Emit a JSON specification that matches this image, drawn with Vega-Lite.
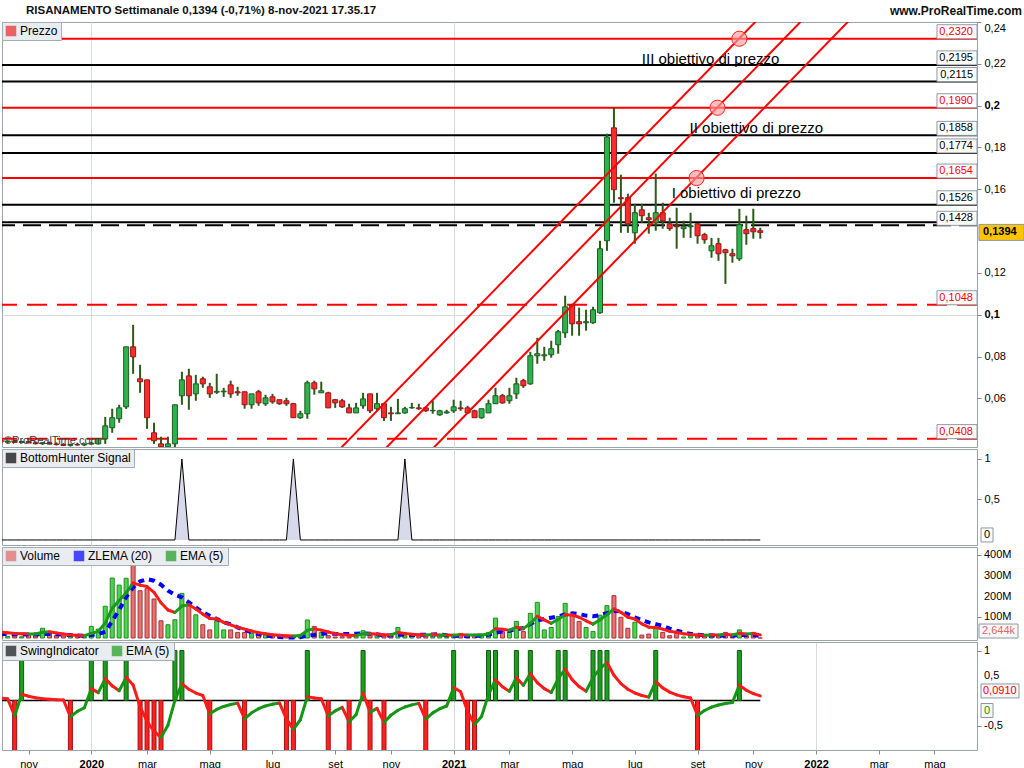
{
"$schema":"https://vega.github.io/schema/vega-lite/v6.json",
"padding":{"top":4,"left":0,"right":0,"bottom":0},
"background":"#ffffff",
"spacing":0,
"config":{
 "locale":{"number":{"decimal":",","thousands":".","grouping":[3],"currency":["","\u00a0€"],"minus":"-"}},
 "view":{"stroke":"#9aa4ae","strokeWidth":1},
 "font":"Liberation Sans",
 "scale":{"continuousPadding":0},
 "axis":{"labelFont":"Liberation Sans","labelFontSize":11,"labelColor":"#000000","tickColor":"#7d8790","domainColor":"#9aa4ae","gridColor":"#d5dae0","tickSize":4,"labelPadding":3,"labelOverlap":false},
 "legend":{"orient":"top-left","offset":0,"direction":"horizontal","fillColor":"#e9edf1","strokeColor":"#a3adb7","padding":3,"symbolType":"square","symbolSize":110,"symbolStrokeWidth":0,"labelFont":"Liberation Sans","labelFontSize":12,"labelColor":"#000000","columnPadding":12,"labelOffset":3}
},
"datasets":{
"w":[
{"d":"2019-10-07","o":0.0400,"h":0.0405,"l":0.0388,"c":0.0392,"v":12e6,"ev":29e6,"zl":20e6,"bh":0,"sw":0,"es":0.05},
{"d":"2019-10-14","o":0.0392,"h":0.0400,"l":0.0385,"c":0.0396,"v":8e6,"ev":25e6,"zl":19e6,"bh":0,"sw":0,"es":0.033},
{"d":"2019-10-21","o":0.0396,"h":0.0402,"l":0.0388,"c":0.0390,"v":10e6,"ev":22e6,"zl":18e6,"bh":0,"sw":-1,"es":-0.311},
{"d":"2019-10-28","o":0.0390,"h":0.0398,"l":0.0385,"c":0.0394,"v":6e6,"ev":20e6,"zl":17e6,"bh":0,"sw":1,"es":0.126},
{"d":"2019-11-04","o":0.0394,"h":0.0400,"l":0.0386,"c":0.0388,"v":15e6,"ev":19e6,"zl":17e6,"bh":0,"sw":0,"es":0.084},
{"d":"2019-11-11","o":0.0388,"h":0.0395,"l":0.0380,"c":0.0384,"v":20e6,"ev":19e6,"zl":17e6,"bh":0,"sw":0,"es":0.056},
{"d":"2019-11-18","o":0.0384,"h":0.0392,"l":0.0378,"c":0.0388,"v":47e6,"ev":28e6,"zl":19e6,"bh":0,"sw":0,"es":0.037},
{"d":"2019-11-25","o":0.0388,"h":0.0394,"l":0.0380,"c":0.0382,"v":29e6,"ev":30e6,"zl":20e6,"bh":0,"sw":0,"es":0.025},
{"d":"2019-12-02","o":0.0382,"h":0.0390,"l":0.0375,"c":0.0380,"v":12e6,"ev":24e6,"zl":18e6,"bh":0,"sw":0,"es":0.017},
{"d":"2019-12-09","o":0.0380,"h":0.0386,"l":0.0372,"c":0.0376,"v":10e6,"ev":19e6,"zl":16e6,"bh":0,"sw":0,"es":0.011},
{"d":"2019-12-16","o":0.0376,"h":0.0384,"l":0.0370,"c":0.0380,"v":8e6,"ev":15e6,"zl":14e6,"bh":0,"sw":-1,"es":-0.326},
{"d":"2019-12-23","o":0.0380,"h":0.0388,"l":0.0374,"c":0.0378,"v":10e6,"ev":13e6,"zl":12e6,"bh":0,"sw":0,"es":-0.217},
{"d":"2019-12-30","o":0.0378,"h":0.0386,"l":0.0372,"c":0.0382,"v":6e6,"ev":11e6,"zl":11e6,"bh":0,"sw":0,"es":-0.145},
{"d":"2020-01-06","o":0.0382,"h":0.0392,"l":0.0378,"c":0.0386,"v":56e6,"ev":22e6,"zl":15e6,"bh":0,"sw":1,"es":0.237},
{"d":"2020-01-13","o":0.0383,"h":0.0410,"l":0.0380,"c":0.0407,"v":43e6,"ev":32e6,"zl":20e6,"bh":0,"sw":0,"es":0.158},
{"d":"2020-01-20","o":0.0407,"h":0.0512,"l":0.0383,"c":0.0469,"v":153e6,"ev":72e6,"zl":30e6,"bh":0,"sw":1,"es":0.439},
{"d":"2020-01-27","o":0.0460,"h":0.0551,"l":0.0436,"c":0.0508,"v":289e6,"ev":144e6,"zl":82e6,"bh":0,"sw":0,"es":0.293},
{"d":"2020-02-03","o":0.0503,"h":0.0570,"l":0.0484,"c":0.0555,"v":255e6,"ev":181e6,"zl":135e6,"bh":0,"sw":0,"es":0.195},
{"d":"2020-02-10","o":0.0560,"h":0.0847,"l":0.0550,"c":0.0847,"v":288e6,"ev":217e6,"zl":197e6,"bh":0,"sw":1,"es":0.463},
{"d":"2020-02-17","o":0.0847,"h":0.0952,"l":0.0718,"c":0.0799,"v":353e6,"ev":265e6,"zl":244e6,"bh":0,"sw":0,"es":0.309},
{"d":"2020-02-24","o":0.0694,"h":0.0761,"l":0.0627,"c":0.0680,"v":228e6,"ev":255e6,"zl":273e6,"bh":0,"sw":-1,"es":-0.127},
{"d":"2020-03-02","o":0.0689,"h":0.0689,"l":0.0455,"c":0.0508,"v":239e6,"ev":248e6,"zl":284e6,"bh":0,"sw":-1,"es":-0.418},
{"d":"2020-03-09","o":0.0436,"h":0.0484,"l":0.0383,"c":0.0398,"v":188e6,"ev":220e6,"zl":276e6,"bh":0,"sw":-1,"es":-0.612},
{"d":"2020-03-16","o":0.0383,"h":0.0417,"l":0.0364,"c":0.0369,"v":83e6,"ev":170e6,"zl":257e6,"bh":0,"sw":-1,"es":-0.741},
{"d":"2020-03-23","o":0.0369,"h":0.0417,"l":0.0364,"c":0.0383,"v":64e6,"ev":135e6,"zl":228e6,"bh":0,"sw":0,"es":-0.494},
{"d":"2020-03-30","o":0.0383,"h":0.0570,"l":0.0364,"c":0.0570,"v":88e6,"ev":123e6,"zl":209e6,"bh":0,"sw":1,"es":0.004},
{"d":"2020-04-06","o":0.0613,"h":0.0728,"l":0.0570,"c":0.0689,"v":215e6,"ev":154e6,"zl":196e6,"bh":1,"sw":1,"es":0.336},
{"d":"2020-04-13","o":0.0708,"h":0.0742,"l":0.0546,"c":0.0613,"v":172e6,"ev":160e6,"zl":172e6,"bh":0,"sw":0,"es":0.224},
{"d":"2020-04-20","o":0.0622,"h":0.0713,"l":0.0589,"c":0.0670,"v":112e6,"ev":140e6,"zl":148e6,"bh":0,"sw":0,"es":0.149},
{"d":"2020-04-27","o":0.0694,"h":0.0704,"l":0.0651,"c":0.0670,"v":64e6,"ev":115e6,"zl":124e6,"bh":0,"sw":0,"es":0.100},
{"d":"2020-05-04","o":0.0656,"h":0.0675,"l":0.0603,"c":0.0622,"v":39e6,"ev":94e6,"zl":107e6,"bh":0,"sw":-1,"es":-0.267},
{"d":"2020-05-11","o":0.0630,"h":0.0718,"l":0.0622,"c":0.0634,"v":83e6,"ev":92e6,"zl":92e6,"bh":0,"sw":0,"es":-0.178},
{"d":"2020-05-18","o":0.0632,"h":0.0651,"l":0.0608,"c":0.0635,"v":39e6,"ev":75e6,"zl":75e6,"bh":0,"sw":0,"es":-0.119},
{"d":"2020-05-25","o":0.0665,"h":0.0685,"l":0.0603,"c":0.0622,"v":39e6,"ev":63e6,"zl":67e6,"bh":0,"sw":0,"es":-0.079},
{"d":"2020-06-01","o":0.0632,"h":0.0656,"l":0.0613,"c":0.0627,"v":27e6,"ev":52e6,"zl":51e6,"bh":0,"sw":0,"es":-0.053},
{"d":"2020-06-08","o":0.0632,"h":0.0632,"l":0.0551,"c":0.0570,"v":27e6,"ev":43e6,"zl":39e6,"bh":0,"sw":-1,"es":-0.369},
{"d":"2020-06-15","o":0.0570,"h":0.0622,"l":0.0551,"c":0.0622,"v":22e6,"ev":34e6,"zl":27e6,"bh":0,"sw":0,"es":-0.246},
{"d":"2020-06-22","o":0.0632,"h":0.0641,"l":0.0565,"c":0.0579,"v":14e6,"ev":25e6,"zl":19e6,"bh":0,"sw":0,"es":-0.164},
{"d":"2020-06-29","o":0.0575,"h":0.0618,"l":0.0565,"c":0.0603,"v":14e6,"ev":20e6,"zl":11e6,"bh":0,"sw":0,"es":-0.109},
{"d":"2020-07-06","o":0.0608,"h":0.0622,"l":0.0575,"c":0.0584,"v":12e6,"ev":16e6,"zl":8e6,"bh":0,"sw":0,"es":-0.073},
{"d":"2020-07-13","o":0.0594,"h":0.0594,"l":0.0570,"c":0.0575,"v":8e6,"ev":13e6,"zl":5e6,"bh":0,"sw":0,"es":-0.049},
{"d":"2020-07-20","o":0.0589,"h":0.0603,"l":0.0565,"c":0.0575,"v":10e6,"ev":11e6,"zl":3e6,"bh":0,"sw":-1,"es":-0.366},
{"d":"2020-07-27","o":0.0575,"h":0.0579,"l":0.0508,"c":0.0508,"v":12e6,"ev":10e6,"zl":3e6,"bh":1,"sw":-1,"es":-0.577},
{"d":"2020-08-03","o":0.0508,"h":0.0541,"l":0.0503,"c":0.0527,"v":14e6,"ev":12e6,"zl":4e6,"bh":0,"sw":0,"es":-0.385},
{"d":"2020-08-10","o":0.0527,"h":0.0685,"l":0.0503,"c":0.0675,"v":87e6,"ev":37e6,"zl":11e6,"bh":0,"sw":1,"es":0.077},
{"d":"2020-08-17","o":0.0675,"h":0.0685,"l":0.0618,"c":0.0646,"v":56e6,"ev":44e6,"zl":15e6,"bh":0,"sw":0,"es":0.051},
{"d":"2020-08-24","o":0.0627,"h":0.0680,"l":0.0627,"c":0.0637,"v":27e6,"ev":38e6,"zl":20e6,"bh":0,"sw":0,"es":0.034},
{"d":"2020-08-31","o":0.0627,"h":0.0632,"l":0.0555,"c":0.0555,"v":11e6,"ev":29e6,"zl":22e6,"bh":0,"sw":-1,"es":-0.310},
{"d":"2020-09-07","o":0.0594,"h":0.0598,"l":0.0555,"c":0.0579,"v":5e6,"ev":21e6,"zl":20e6,"bh":0,"sw":0,"es":-0.207},
{"d":"2020-09-14","o":0.0589,"h":0.0598,"l":0.0555,"c":0.0560,"v":6e6,"ev":16e6,"zl":19e6,"bh":0,"sw":0,"es":-0.138},
{"d":"2020-09-21","o":0.0555,"h":0.0575,"l":0.0531,"c":0.0531,"v":6e6,"ev":13e6,"zl":19e6,"bh":0,"sw":-1,"es":-0.425},
{"d":"2020-09-28","o":0.0531,"h":0.0579,"l":0.0531,"c":0.0555,"v":11e6,"ev":12e6,"zl":21e6,"bh":0,"sw":0,"es":-0.283},
{"d":"2020-10-05","o":0.0565,"h":0.0627,"l":0.0551,"c":0.0598,"v":35e6,"ev":20e6,"zl":22e6,"bh":0,"sw":1,"es":0.145},
{"d":"2020-10-12","o":0.0622,"h":0.0622,"l":0.0531,"c":0.0541,"v":19e6,"ev":20e6,"zl":20e6,"bh":0,"sw":-1,"es":-0.237},
{"d":"2020-10-19","o":0.0551,"h":0.0627,"l":0.0541,"c":0.0575,"v":19e6,"ev":19e6,"zl":18e6,"bh":0,"sw":0,"es":-0.158},
{"d":"2020-10-26","o":0.0575,"h":0.0579,"l":0.0493,"c":0.0508,"v":8e6,"ev":16e6,"zl":12e6,"bh":0,"sw":-1,"es":-0.439},
{"d":"2020-11-02","o":0.0531,"h":0.0560,"l":0.0493,"c":0.0527,"v":14e6,"ev":15e6,"zl":13e6,"bh":0,"sw":0,"es":-0.293},
{"d":"2020-11-09","o":0.0527,"h":0.0598,"l":0.0527,"c":0.0531,"v":51e6,"ev":27e6,"zl":16e6,"bh":0,"sw":0,"es":-0.195},
{"d":"2020-11-16","o":0.0531,"h":0.0560,"l":0.0527,"c":0.0551,"v":11e6,"ev":22e6,"zl":15e6,"bh":1,"sw":0,"es":-0.130},
{"d":"2020-11-23","o":0.0555,"h":0.0579,"l":0.0551,"c":0.0557,"v":11e6,"ev":18e6,"zl":15e6,"bh":0,"sw":0,"es":-0.087},
{"d":"2020-11-30","o":0.0555,"h":0.0575,"l":0.0546,"c":0.0551,"v":11e6,"ev":16e6,"zl":15e6,"bh":0,"sw":0,"es":-0.058},
{"d":"2020-12-07","o":0.0555,"h":0.0560,"l":0.0536,"c":0.0541,"v":11e6,"ev":14e6,"zl":16e6,"bh":0,"sw":-1,"es":-0.372},
{"d":"2020-12-14","o":0.0541,"h":0.0589,"l":0.0527,"c":0.0543,"v":22e6,"ev":17e6,"zl":17e6,"bh":0,"sw":0,"es":-0.248},
{"d":"2020-12-21","o":0.0522,"h":0.0546,"l":0.0517,"c":0.0541,"v":11e6,"ev":15e6,"zl":18e6,"bh":0,"sw":0,"es":-0.165},
{"d":"2020-12-28","o":0.0531,"h":0.0546,"l":0.0527,"c":0.0536,"v":14e6,"ev":15e6,"zl":13e6,"bh":0,"sw":0,"es":-0.110},
{"d":"2021-01-04","o":0.0541,"h":0.0594,"l":0.0531,"c":0.0560,"v":11e6,"ev":13e6,"zl":11e6,"bh":0,"sw":1,"es":0.260},
{"d":"2021-01-11","o":0.0555,"h":0.0589,"l":0.0541,"c":0.0551,"v":22e6,"ev":16e6,"zl":10e6,"bh":0,"sw":0,"es":0.173},
{"d":"2021-01-18","o":0.0555,"h":0.0565,"l":0.0527,"c":0.0531,"v":11e6,"ev":14e6,"zl":9e6,"bh":0,"sw":-1,"es":-0.218},
{"d":"2021-01-25","o":0.0541,"h":0.0546,"l":0.0508,"c":0.0508,"v":14e6,"ev":14e6,"zl":9e6,"bh":0,"sw":-1,"es":-0.479},
{"d":"2021-02-01","o":0.0508,"h":0.0551,"l":0.0503,"c":0.0551,"v":14e6,"ev":14e6,"zl":12e6,"bh":0,"sw":0,"es":-0.319},
{"d":"2021-02-08","o":0.0531,"h":0.0594,"l":0.0531,"c":0.0575,"v":27e6,"ev":19e6,"zl":16e6,"bh":0,"sw":1,"es":0.120},
{"d":"2021-02-15","o":0.0575,"h":0.0651,"l":0.0575,"c":0.0613,"v":96e6,"ev":45e6,"zl":25e6,"bh":0,"sw":1,"es":0.413},
{"d":"2021-02-22","o":0.0613,"h":0.0622,"l":0.0575,"c":0.0579,"v":31e6,"ev":42e6,"zl":31e6,"bh":0,"sw":0,"es":0.275},
{"d":"2021-03-01","o":0.0589,"h":0.0651,"l":0.0575,"c":0.0613,"v":27e6,"ev":38e6,"zl":35e6,"bh":0,"sw":0,"es":0.184},
{"d":"2021-03-08","o":0.0622,"h":0.0699,"l":0.0598,"c":0.0670,"v":80e6,"ev":52e6,"zl":42e6,"bh":0,"sw":1,"es":0.456},
{"d":"2021-03-15","o":0.0685,"h":0.0694,"l":0.0651,"c":0.0661,"v":31e6,"ev":45e6,"zl":48e6,"bh":0,"sw":0,"es":0.304},
{"d":"2021-03-22","o":0.0670,"h":0.0823,"l":0.0665,"c":0.0804,"v":119e6,"ev":70e6,"zl":67e6,"bh":0,"sw":1,"es":0.536},
{"d":"2021-03-29","o":0.0804,"h":0.0890,"l":0.0766,"c":0.0814,"v":172e6,"ev":104e6,"zl":85e6,"bh":0,"sw":0,"es":0.357},
{"d":"2021-04-05","o":0.0804,"h":0.0847,"l":0.0780,"c":0.0809,"v":39e6,"ev":87e6,"zl":92e6,"bh":0,"sw":0,"es":0.238},
{"d":"2021-04-12","o":0.0809,"h":0.0876,"l":0.0795,"c":0.0838,"v":51e6,"ev":71e6,"zl":98e6,"bh":0,"sw":0,"es":0.159},
{"d":"2021-04-19","o":0.0857,"h":0.0928,"l":0.0814,"c":0.0919,"v":104e6,"ev":90e6,"zl":104e6,"bh":0,"sw":1,"es":0.439},
{"d":"2021-04-26","o":0.0914,"h":0.1091,"l":0.0890,"c":0.1038,"v":167e6,"ev":112e6,"zl":113e6,"bh":0,"sw":1,"es":0.626},
{"d":"2021-05-03","o":0.1048,"h":0.1053,"l":0.0900,"c":0.0957,"v":112e6,"ev":111e6,"zl":119e6,"bh":0,"sw":0,"es":0.417},
{"d":"2021-05-10","o":0.0967,"h":0.1034,"l":0.0900,"c":0.0957,"v":80e6,"ev":100e6,"zl":115e6,"bh":0,"sw":0,"es":0.278},
{"d":"2021-05-17","o":0.0962,"h":0.1024,"l":0.0924,"c":0.0967,"v":51e6,"ev":83e6,"zl":108e6,"bh":0,"sw":0,"es":0.185},
{"d":"2021-05-24","o":0.0962,"h":0.1038,"l":0.0957,"c":0.1024,"v":32e6,"ev":67e6,"zl":105e6,"bh":0,"sw":1,"es":0.457},
{"d":"2021-05-31","o":0.1010,"h":0.1354,"l":0.1005,"c":0.1316,"v":110e6,"ev":88e6,"zl":110e6,"bh":0,"sw":1,"es":0.638},
{"d":"2021-06-07","o":0.1354,"h":0.1866,"l":0.1306,"c":0.1850,"v":156e6,"ev":112e6,"zl":120e6,"bh":0,"sw":1,"es":0.759},
{"d":"2021-06-14","o":0.1894,"h":0.1990,"l":0.1536,"c":0.1598,"v":204e6,"ev":140e6,"zl":130e6,"bh":0,"sw":0,"es":0.506},
{"d":"2021-06-21","o":0.1560,"h":0.1670,"l":0.1392,"c":0.1555,"v":100e6,"ev":124e6,"zl":128e6,"bh":0,"sw":0,"es":0.337},
{"d":"2021-06-28","o":0.1560,"h":0.1579,"l":0.1392,"c":0.1435,"v":47e6,"ev":100e6,"zl":115e6,"bh":0,"sw":0,"es":0.225},
{"d":"2021-07-05","o":0.1392,"h":0.1531,"l":0.1340,"c":0.1488,"v":76e6,"ev":92e6,"zl":100e6,"bh":0,"sw":0,"es":0.150},
{"d":"2021-07-12","o":0.1502,"h":0.1531,"l":0.1440,"c":0.1474,"v":14e6,"ev":68e6,"zl":87e6,"bh":0,"sw":0,"es":0.100},
{"d":"2021-07-19","o":0.1464,"h":0.1488,"l":0.1388,"c":0.1455,"v":19e6,"ev":52e6,"zl":75e6,"bh":0,"sw":0,"es":0.067},
{"d":"2021-07-26","o":0.1440,"h":0.1675,"l":0.1402,"c":0.1488,"v":48e6,"ev":51e6,"zl":67e6,"bh":0,"sw":1,"es":0.378},
{"d":"2021-08-02","o":0.1488,"h":0.1536,"l":0.1412,"c":0.1450,"v":27e6,"ev":43e6,"zl":59e6,"bh":0,"sw":0,"es":0.252},
{"d":"2021-08-09","o":0.1435,"h":0.1464,"l":0.1402,"c":0.1412,"v":11e6,"ev":32e6,"zl":45e6,"bh":0,"sw":0,"es":0.168},
{"d":"2021-08-16","o":0.1426,"h":0.1512,"l":0.1316,"c":0.1421,"v":22e6,"ev":28e6,"zl":35e6,"bh":0,"sw":0,"es":0.112},
{"d":"2021-08-23","o":0.1412,"h":0.1450,"l":0.1368,"c":0.1421,"v":5e6,"ev":20e6,"zl":27e6,"bh":0,"sw":0,"es":0.075},
{"d":"2021-08-30","o":0.1421,"h":0.1488,"l":0.1368,"c":0.1426,"v":11e6,"ev":17e6,"zl":20e6,"bh":0,"sw":0,"es":0.050},
{"d":"2021-09-06","o":0.1435,"h":0.1440,"l":0.1340,"c":0.1378,"v":11e6,"ev":15e6,"zl":16e6,"bh":0,"sw":-1,"es":-0.300},
{"d":"2021-09-13","o":0.1383,"h":0.1392,"l":0.1340,"c":0.1359,"v":11e6,"ev":13e6,"zl":13e6,"bh":0,"sw":0,"es":-0.200},
{"d":"2021-09-20","o":0.1306,"h":0.1368,"l":0.1273,"c":0.1330,"v":19e6,"ev":15e6,"zl":12e6,"bh":0,"sw":0,"es":-0.133},
{"d":"2021-09-27","o":0.1340,"h":0.1368,"l":0.1258,"c":0.1292,"v":11e6,"ev":14e6,"zl":11e6,"bh":0,"sw":0,"es":-0.089},
{"d":"2021-10-04","o":0.1311,"h":0.1316,"l":0.1148,"c":0.1297,"v":27e6,"ev":18e6,"zl":12e6,"bh":0,"sw":0,"es":-0.059},
{"d":"2021-10-11","o":0.1292,"h":0.1316,"l":0.1249,"c":0.1282,"v":8e6,"ev":15e6,"zl":11e6,"bh":0,"sw":0,"es":-0.040},
{"d":"2021-10-18","o":0.1268,"h":0.1507,"l":0.1258,"c":0.1431,"v":39e6,"ev":23e6,"zl":15e6,"bh":0,"sw":1,"es":0.307},
{"d":"2021-10-25","o":0.1407,"h":0.1474,"l":0.1335,"c":0.1388,"v":11e6,"ev":19e6,"zl":14e6,"bh":0,"sw":0,"es":0.205},
{"d":"2021-11-01","o":0.1412,"h":0.1507,"l":0.1364,"c":0.1397,"v":27e6,"ev":22e6,"zl":14e6,"bh":0,"sw":0,"es":0.137},
{"d":"2021-11-08","o":0.1402,"h":0.1416,"l":0.1364,"c":0.1394,"v":2644,"ev":15e6,"zl":10e6,"bh":0,"sw":0,"es":0.091}
],
"supR":[{"p":0.2320},{"p":0.1990},{"p":0.1654}],
"supN":[{"p":0.2195},{"p":0.2115},{"p":0.1858},{"p":0.1774},{"p":0.1526}],
"supX":[{"p":0.1442}],
"supDN":[{"p":0.1428}],
"supD":[{"p":0.1048},{"p":0.0408}],
"last":[{"p":0.1394}]
},
"vconcat":[
{
 "width":975,"height":425,
 "layer":[
  {"data":{"name":"supR"},"mark":{"type":"rule","color":"#ff0000","strokeWidth":2},
   "encoding":{"y":{"field":"p","type":"quantitative","title":null,"scale":{"domain":[0.0368,0.24],"nice":false,"zero":false},
    "axis":{"orient":"right","values":[0.06,0.08,0.1,0.12,0.16,0.18,0.2,0.22,0.24],"format":".2~f","labelFlush":true,"domain":false,"grid":true,"gridColor":"#d5dae0",
     "gridOpacity":{"condition":{"test":"datum.value === 0.1","value":1},"value":0},
     "labelFontWeight":{"condition":{"test":"datum.value === 0.1 || datum.value === 0.2","value":"bold"},"value":"normal"},"title":null}}}},
  {"data":{"name":"supN"},"mark":{"type":"rule","color":"#000000","strokeWidth":2},
   "encoding":{"y":{"field":"p","type":"quantitative","title":null,"scale":{"domain":[0.0368,0.24],"nice":false,"zero":false}}}},
  {"data":{"name":"supX"},"mark":{"type":"rule","color":"#000000","strokeWidth":2},
   "encoding":{"y":{"field":"p","type":"quantitative","title":null,"scale":{"domain":[0.0368,0.24],"nice":false,"zero":false}}}},
  {"data":{"name":"supD"},"mark":{"type":"rule","color":"#ff0000","strokeWidth":2,"strokeDash":[20,10]},
   "encoding":{"y":{"field":"p","type":"quantitative","title":null,"scale":{"domain":[0.0368,0.24],"nice":false,"zero":false}}}},
  {"data":{"name":"supDN"},"mark":{"type":"rule","color":"#000000","strokeWidth":2,"strokeDash":[18,8]},
   "encoding":{"y":{"field":"p","type":"quantitative","title":null,"scale":{"domain":[0.0368,0.24],"nice":false,"zero":false}}}},
  {"data":{"name":"w"},"mark":{"type":"rule","color":"#2d5a18","strokeWidth":2,"clip":true},
   "encoding":{
    "x":{"field":"d","type":"temporal","title":null,"scale":{"type":"utc","nice":false,"padding":0,"domain":[{"year":2019,"month":10,"date":8,"hours":7,"utc":true},{"year":2022,"month":6,"date":13,"hours":17,"utc":true}]},
     "axis":{"values":[{"year":2020,"month":1,"date":6,"utc":true},{"year":2021,"month":1,"date":4,"utc":true}],"grid":true,"gridColor":"#d5dae0","labels":false,"ticks":false,"domain":false,"title":null}},
    "y":{"field":"l","type":"quantitative","title":null,"scale":{"domain":[0.0368,0.24],"nice":false,"zero":false}},
    "y2":{"field":"h"}}},
  {"data":{"name":"w"},"mark":{"type":"bar","width":5,"strokeWidth":1,"clip":true},
   "encoding":{
    "x":{"field":"d","type":"temporal","title":null,"scale":{"type":"utc","nice":false,"padding":0,"domain":[{"year":2019,"month":10,"date":8,"hours":7,"utc":true},{"year":2022,"month":6,"date":13,"hours":17,"utc":true}]}},
    "y":{"field":"o","type":"quantitative","title":null,"scale":{"domain":[0.0368,0.24],"nice":false,"zero":false}},
    "y2":{"field":"c"},
    "fill":{"condition":{"test":"datum.c >= datum.o","value":"#2fb24e"},"value":"#ff2a2a"},
    "stroke":{"condition":{"test":"datum.c >= datum.o","value":"#1c5e22"},"value":"#8f1a1a"}}},
  {"data":{"values":[
    {"k":1,"d":"2020-08-30T19:00:00Z","p":0.03},{"k":1,"d":"2021-12-13T19:00:00Z","p":0.26},
    {"k":2,"d":"2020-10-15T02:00:00Z","p":0.03},{"k":2,"d":"2022-01-28T05:00:00Z","p":0.26},
    {"k":3,"d":"2020-12-01T17:00:00Z","p":0.03},{"k":3,"d":"2022-03-16T17:00:00Z","p":0.26}]},
   "mark":{"type":"line","color":"#ff0000","strokeWidth":2,"clip":true},
   "encoding":{
    "x":{"field":"d","type":"temporal","title":null,"scale":{"type":"utc","nice":false,"padding":0,"domain":[{"year":2019,"month":10,"date":8,"hours":7,"utc":true},{"year":2022,"month":6,"date":13,"hours":17,"utc":true}]}},
    "y":{"field":"p","type":"quantitative","title":null,"scale":{"domain":[0.0368,0.24],"nice":false,"zero":false}},
    "detail":{"field":"k","type":"nominal"}}},
  {"data":{"values":[{"d":"2021-10-18","p":0.2320},{"d":"2021-09-26","p":0.1990},{"d":"2021-09-05","p":0.1654}]},
   "mark":{"type":"point","filled":true,"size":230,"fill":"#ff9c9c","fillOpacity":0.65,"stroke":"#ff2020","strokeWidth":1,"opacity":1},
   "encoding":{
    "x":{"field":"d","type":"temporal","title":null,"scale":{"type":"utc","nice":false,"padding":0,"domain":[{"year":2019,"month":10,"date":8,"hours":7,"utc":true},{"year":2022,"month":6,"date":13,"hours":17,"utc":true}]}},
    "y":{"field":"p","type":"quantitative","title":null,"scale":{"domain":[0.0368,0.24],"nice":false,"zero":false}}}},
  {"data":{"values":[{"t":"III obiettivo di prezzo","d":"2021-07-12","p":0.2224},{"t":"II obiettivo di prezzo","d":"2021-08-29","p":0.1895},{"t":"I obiettivo di prezzo","d":"2021-08-11","p":0.1584}]},
   "mark":{"type":"text","align":"left","baseline":"middle","fontSize":15,"color":"#000000","font":"Liberation Sans"},
   "encoding":{
    "x":{"field":"d","type":"temporal","title":null,"scale":{"type":"utc","nice":false,"padding":0,"domain":[{"year":2019,"month":10,"date":8,"hours":7,"utc":true},{"year":2022,"month":6,"date":13,"hours":17,"utc":true}]}},
    "y":{"field":"p","type":"quantitative","title":null,"scale":{"domain":[0.0368,0.24],"nice":false,"zero":false}},
    "text":{"field":"t"}}},
  {"data":{"name":"supR"},"mark":{"type":"rect","fill":"#ffffff","stroke":"#8d98a3","strokeWidth":1,"yOffset":-14,"y2Offset":0},
   "encoding":{"x":{"datum":{"year":2022,"month":5,"date":4,"hours":12,"utc":true},"type":"temporal","scale":{"type":"utc","nice":false,"padding":0,"domain":[{"year":2019,"month":10,"date":8,"hours":7,"utc":true},{"year":2022,"month":6,"date":13,"hours":17,"utc":true}]}},"x2":{"value":"width"},
    "y":{"field":"p","type":"quantitative","title":null,"scale":{"domain":[0.0368,0.24],"nice":false,"zero":false}},"y2":{"field":"p"}}},
  {"data":{"name":"supN"},"mark":{"type":"rect","fill":"#ffffff","stroke":"#8d98a3","strokeWidth":1,"yOffset":-14,"y2Offset":0},
   "encoding":{"x":{"datum":{"year":2022,"month":5,"date":4,"hours":12,"utc":true},"type":"temporal","scale":{"type":"utc","nice":false,"padding":0,"domain":[{"year":2019,"month":10,"date":8,"hours":7,"utc":true},{"year":2022,"month":6,"date":13,"hours":17,"utc":true}]}},"x2":{"value":"width"},
    "y":{"field":"p","type":"quantitative","title":null,"scale":{"domain":[0.0368,0.24],"nice":false,"zero":false}},"y2":{"field":"p"}}},
  {"data":{"name":"supDN"},"mark":{"type":"rect","fill":"#ffffff","stroke":"#8d98a3","strokeWidth":1,"yOffset":-14,"y2Offset":0},
   "encoding":{"x":{"datum":{"year":2022,"month":5,"date":4,"hours":12,"utc":true},"type":"temporal","scale":{"type":"utc","nice":false,"padding":0,"domain":[{"year":2019,"month":10,"date":8,"hours":7,"utc":true},{"year":2022,"month":6,"date":13,"hours":17,"utc":true}]}},"x2":{"value":"width"},
    "y":{"field":"p","type":"quantitative","title":null,"scale":{"domain":[0.0368,0.24],"nice":false,"zero":false}},"y2":{"field":"p"}}},
  {"data":{"name":"supD"},"mark":{"type":"rect","fill":"#ffffff","stroke":"#8d98a3","strokeWidth":1,"yOffset":-14,"y2Offset":0},
   "encoding":{"x":{"datum":{"year":2022,"month":5,"date":4,"hours":12,"utc":true},"type":"temporal","scale":{"type":"utc","nice":false,"padding":0,"domain":[{"year":2019,"month":10,"date":8,"hours":7,"utc":true},{"year":2022,"month":6,"date":13,"hours":17,"utc":true}]}},"x2":{"value":"width"},
    "y":{"field":"p","type":"quantitative","title":null,"scale":{"domain":[0.0368,0.24],"nice":false,"zero":false}},"y2":{"field":"p"}}},
  {"data":{"name":"supR"},"mark":{"type":"text","align":"right","baseline":"middle","dx":-4,"dy":-7,"fontSize":11,"color":"#ff0000"},
   "encoding":{"x":{"value":"width"},"y":{"field":"p","type":"quantitative","title":null,"scale":{"domain":[0.0368,0.24],"nice":false,"zero":false}},"text":{"field":"p","type":"quantitative","format":".4f"}}},
  {"data":{"name":"supN"},"mark":{"type":"text","align":"right","baseline":"middle","dx":-4,"dy":-7,"fontSize":11,"color":"#000000"},
   "encoding":{"x":{"value":"width"},"y":{"field":"p","type":"quantitative","title":null,"scale":{"domain":[0.0368,0.24],"nice":false,"zero":false}},"text":{"field":"p","type":"quantitative","format":".4f"}}},
  {"data":{"name":"supDN"},"mark":{"type":"text","align":"right","baseline":"middle","dx":-4,"dy":-7,"fontSize":11,"color":"#000000"},
   "encoding":{"x":{"value":"width"},"y":{"field":"p","type":"quantitative","title":null,"scale":{"domain":[0.0368,0.24],"nice":false,"zero":false}},"text":{"field":"p","type":"quantitative","format":".4f"}}},
  {"data":{"name":"supD"},"mark":{"type":"text","align":"right","baseline":"middle","dx":-4,"dy":-7,"fontSize":11,"color":"#ff0000"},
   "encoding":{"x":{"value":"width"},"y":{"field":"p","type":"quantitative","title":null,"scale":{"domain":[0.0368,0.24],"nice":false,"zero":false}},"text":{"field":"p","type":"quantitative","format":".4f"}}},
  {"data":{"name":"last"},"mark":{"type":"rect","fill":"#ffc400","stroke":"#8d98a3","strokeWidth":1,"xOffset":2,"x2Offset":47,"yOffset":-8,"y2Offset":8},
   "encoding":{"x":{"value":"width"},"x2":{"value":"width"},"y":{"field":"p","type":"quantitative","title":null,"scale":{"domain":[0.0368,0.24],"nice":false,"zero":false}},"y2":{"field":"p"}}},
  {"data":{"name":"last"},"mark":{"type":"text","align":"left","baseline":"middle","dx":6,"dy":0,"fontSize":11,"fontWeight":"bold","color":"#000000"},
   "encoding":{"x":{"value":"width"},"y":{"field":"p","type":"quantitative","title":null,"scale":{"domain":[0.0368,0.24],"nice":false,"zero":false}},"text":{"field":"p","type":"quantitative","format":".4f"}}},
  {"data":{"values":[{"t":"©ProRealTime.com"}]},"mark":{"type":"text","align":"left","baseline":"middle","dx":2,"dy":-6,"fontSize":11,"color":"#3a3a3a"},
   "encoding":{"x":{"datum":{"year":2019,"month":10,"date":8,"hours":7,"utc":true},"type":"temporal","scale":{"type":"utc","nice":false,"padding":0,"domain":[{"year":2019,"month":10,"date":8,"hours":7,"utc":true},{"year":2022,"month":6,"date":13,"hours":17,"utc":true}]}},
    "y":{"datum":0.0368,"type":"quantitative","scale":{"domain":[0.0368,0.24],"nice":false,"zero":false}},"text":{"field":"t"}}},
  {"data":{"values":[{"t":"RISANAMENTO Settimanale 0,1394 (-0,71%) 8-nov-2021 17.35.17"}]},"mark":{"type":"text","align":"left","baseline":"middle","dx":24,"dy":-11,"fontSize":11.5,"fontWeight":"bold","color":"#111111"},
   "encoding":{"x":{"datum":{"year":2019,"month":10,"date":8,"hours":7,"utc":true},"type":"temporal","scale":{"type":"utc","nice":false,"padding":0,"domain":[{"year":2019,"month":10,"date":8,"hours":7,"utc":true},{"year":2022,"month":6,"date":13,"hours":17,"utc":true}]}},
    "y":{"datum":0.24,"type":"quantitative","scale":{"domain":[0.0368,0.24],"nice":false,"zero":false}},"text":{"field":"t"}}},
  {"data":{"values":[{"t":"www.ProRealTime.com"}]},"mark":{"type":"text","align":"right","baseline":"middle","dx":45,"dy":-11,"fontSize":12,"fontWeight":"bold","color":"#111111"},
   "encoding":{"x":{"value":"width"},"y":{"datum":0.24,"type":"quantitative","scale":{"domain":[0.0368,0.24],"nice":false,"zero":false}},"text":{"field":"t"}}},
  {"data":{"values":[{"s":"Prezzo"}]},"mark":{"type":"square","clip":true},
   "encoding":{"x":{"datum":{"year":2019,"month":10,"date":8,"hours":7,"utc":true},"type":"temporal","scale":{"type":"utc","nice":false,"padding":0,"domain":[{"year":2019,"month":10,"date":8,"hours":7,"utc":true},{"year":2022,"month":6,"date":13,"hours":17,"utc":true}]}},
    "y":{"datum":-1,"type":"quantitative","scale":{"domain":[0.0368,0.24],"nice":false,"zero":false}},
    "color":{"field":"s","type":"nominal","title":null,"scale":{"domain":["Prezzo"],"range":["#e8262a"]},"legend":{"title":null}}}}
 ]
},
{
 "width":975,"height":96,
 "layer":[
  {"data":{"name":"w"},"mark":{"type":"area","color":"#d9d9ec","opacity":1,"clip":true},
   "encoding":{
    "x":{"field":"d","type":"temporal","title":null,"scale":{"type":"utc","nice":false,"padding":0,"domain":[{"year":2019,"month":10,"date":8,"hours":7,"utc":true},{"year":2022,"month":6,"date":13,"hours":17,"utc":true}]},
     "axis":{"values":[{"year":2020,"month":1,"date":6,"utc":true},{"year":2021,"month":1,"date":4,"utc":true}],"grid":true,"gridColor":"#d5dae0","labels":false,"ticks":false,"domain":false,"title":null}},
    "y":{"field":"bh","type":"quantitative","title":null,"scale":{"domain":[-0.062,1.123],"nice":false,"zero":false},
     "axis":{"orient":"right","values":[0.5,1],"format":".1~f","domain":false,"grid":false,"title":null}}}},
  {"data":{"name":"w"},"mark":{"type":"line","color":"#000000","strokeWidth":1,"clip":true},
   "encoding":{
    "x":{"field":"d","type":"temporal","title":null,"scale":{"type":"utc","nice":false,"padding":0,"domain":[{"year":2019,"month":10,"date":8,"hours":7,"utc":true},{"year":2022,"month":6,"date":13,"hours":17,"utc":true}]}},
    "y":{"field":"bh","type":"quantitative","title":null,"scale":{"domain":[-0.062,1.123],"nice":false,"zero":false}}}},
  {"data":{"values":[{"bh":0}]},"mark":{"type":"rect","fill":"#ffffff","stroke":"#8d98a3","strokeWidth":1,"xOffset":4,"x2Offset":16,"yOffset":-12,"y2Offset":2},
   "encoding":{"x":{"value":"width"},"x2":{"value":"width"},"y":{"field":"bh","type":"quantitative","title":null,"scale":{"domain":[-0.062,1.123],"nice":false,"zero":false}},"y2":{"field":"bh"}}},
  {"data":{"values":[{"bh":0}]},"mark":{"type":"text","align":"center","baseline":"middle","dx":10,"dy":-5,"fontSize":11,"color":"#000000"},
   "encoding":{"x":{"value":"width"},"y":{"field":"bh","type":"quantitative","title":null,"scale":{"domain":[-0.062,1.123],"nice":false,"zero":false}},"text":{"field":"bh","type":"quantitative","format":".0f"}}},
  {"data":{"values":[{"s":"BottomHunter Signal"}]},"mark":{"type":"square","clip":true},
   "encoding":{"x":{"datum":{"year":2019,"month":10,"date":8,"hours":7,"utc":true},"type":"temporal","scale":{"type":"utc","nice":false,"padding":0,"domain":[{"year":2019,"month":10,"date":8,"hours":7,"utc":true},{"year":2022,"month":6,"date":13,"hours":17,"utc":true}]}},
    "y":{"datum":-10,"type":"quantitative","scale":{"domain":[-0.062,1.123],"nice":false,"zero":false}},
    "color":{"field":"s","type":"nominal","title":null,"scale":{"domain":["BottomHunter Signal"],"range":["#000000"]},"legend":{"title":null}}}}
 ]
},
{
 "width":975,"height":93,
 "layer":[
  {"data":{"name":"w"},"mark":{"type":"bar","width":4,"strokeWidth":1,"clip":true},
   "encoding":{
    "x":{"field":"d","type":"temporal","title":null,"scale":{"type":"utc","nice":false,"padding":0,"domain":[{"year":2019,"month":10,"date":8,"hours":7,"utc":true},{"year":2022,"month":6,"date":13,"hours":17,"utc":true}]},
     "axis":{"values":[{"year":2020,"month":1,"date":6,"utc":true},{"year":2021,"month":1,"date":4,"utc":true}],"grid":true,"gridColor":"#d5dae0","labels":false,"ticks":false,"domain":false,"title":null}},
    "y":{"field":"v","type":"quantitative","title":null,"scale":{"domain":[-9.6e6,438.6e6],"nice":false,"zero":false},
     "axis":{"orient":"right","values":[1e8,2e8,3e8,4e8],"labels":false,"domain":false,"grid":false,"title":null}},
    "fill":{"condition":{"test":"datum.c >= datum.o","value":"#4fd34f"},"value":"#e57373"},
    "stroke":{"condition":{"test":"datum.c >= datum.o","value":"#1f8c1f"},"value":"#a83232"}}},
  {"data":{"name":"w"},"mark":{"type":"line","color":"#0000ff","strokeWidth":4,"strokeDash":[6,5],"clip":true},
   "encoding":{
    "x":{"field":"d","type":"temporal","title":null,"scale":{"type":"utc","nice":false,"padding":0,"domain":[{"year":2019,"month":10,"date":8,"hours":7,"utc":true},{"year":2022,"month":6,"date":13,"hours":17,"utc":true}]}},
    "y":{"field":"zl","type":"quantitative","title":null,"scale":{"domain":[-9.6e6,438.6e6],"nice":false,"zero":false}}}},
  {"data":{"name":"w"},
   "transform":[{"window":[{"op":"lead","field":"ev","as":"ev2"},{"op":"lead","field":"d","as":"d2"}],"sort":[{"field":"d","order":"ascending"}]},{"filter":"datum.d2 != null"}],
   "mark":{"type":"rule","strokeWidth":3,"strokeCap":"round","clip":true},
   "encoding":{
    "x":{"field":"d","type":"temporal","title":null,"scale":{"type":"utc","nice":false,"padding":0,"domain":[{"year":2019,"month":10,"date":8,"hours":7,"utc":true},{"year":2022,"month":6,"date":13,"hours":17,"utc":true}]}},
    "x2":{"field":"d2"},
    "y":{"field":"ev","type":"quantitative","title":null,"scale":{"domain":[-9.6e6,438.6e6],"nice":false,"zero":false}},
    "y2":{"field":"ev2"},
    "color":{"condition":{"test":"datum.ev2 >= datum.ev","value":"#1a9a1a"},"value":"#ff1a1a"}}},
  {"data":{"values":[{"v":1e8},{"v":2e8},{"v":3e8},{"v":4e8}]},"mark":{"type":"text","align":"left","baseline":"middle","dx":7,"fontSize":11,"color":"#000000"},
   "encoding":{"x":{"value":"width"},"y":{"field":"v","type":"quantitative","title":null,"scale":{"domain":[-9.6e6,438.6e6],"nice":false,"zero":false}},"text":{"field":"v","type":"quantitative","format":"~s"}}},
  {"data":{"values":[{"v":2644}]},"mark":{"type":"rect","fill":"#f7f7f7","stroke":"#8d98a3","strokeWidth":1,"xOffset":2,"x2Offset":41,"yOffset":-14,"y2Offset":0},
   "encoding":{"x":{"value":"width"},"x2":{"value":"width"},"y":{"field":"v","type":"quantitative","title":null,"scale":{"domain":[-9.6e6,438.6e6],"nice":false,"zero":false}},"y2":{"field":"v"}}},
  {"data":{"values":[{"v":2644}]},"mark":{"type":"text","align":"left","baseline":"middle","dx":5,"dy":-7,"fontSize":11,"color":"#e06a6a"},
   "encoding":{"x":{"value":"width"},"y":{"field":"v","type":"quantitative","title":null,"scale":{"domain":[-9.6e6,438.6e6],"nice":false,"zero":false}},"text":{"field":"v","type":"quantitative","format":".4~s"}}},
  {"data":{"values":[{"s":"Volume"},{"s":"ZLEMA (20)"},{"s":"EMA (5)"}]},"mark":{"type":"square","clip":true},
   "encoding":{"x":{"datum":{"year":2019,"month":10,"date":8,"hours":7,"utc":true},"type":"temporal","scale":{"type":"utc","nice":false,"padding":0,"domain":[{"year":2019,"month":10,"date":8,"hours":7,"utc":true},{"year":2022,"month":6,"date":13,"hours":17,"utc":true}]}},
    "y":{"datum":-1e12,"type":"quantitative","scale":{"domain":[-9.6e6,438.6e6],"nice":false,"zero":false}},
    "color":{"field":"s","type":"nominal","title":null,"scale":{"domain":["Volume","ZLEMA (20)","EMA (5)"],"range":["#e06666","#0000ff","#1a9a1a"]},"legend":{"title":null}}}}
 ]
},
{
 "width":975,"height":108,
 "layer":[
  {"data":{"name":"w"},"mark":{"type":"line","color":"#000000","strokeWidth":1.5,"clip":true},
   "encoding":{
    "x":{"field":"d","type":"temporal","title":null,"scale":{"type":"utc","nice":false,"padding":0,"domain":[{"year":2019,"month":10,"date":8,"hours":7,"utc":true},{"year":2022,"month":6,"date":13,"hours":17,"utc":true}]},
     "axis":{"values":[
       {"year":2019,"month":11,"date":4,"utc":true},{"year":2019,"month":12,"date":2,"utc":true},
       {"year":2020,"month":1,"date":6,"utc":true},{"year":2020,"month":2,"date":3,"utc":true},{"year":2020,"month":3,"date":2,"utc":true},{"year":2020,"month":4,"date":6,"utc":true},{"year":2020,"month":5,"date":4,"utc":true},{"year":2020,"month":6,"date":1,"utc":true},{"year":2020,"month":7,"date":6,"utc":true},{"year":2020,"month":8,"date":3,"utc":true},{"year":2020,"month":9,"date":7,"utc":true},{"year":2020,"month":10,"date":5,"utc":true},{"year":2020,"month":11,"date":2,"utc":true},{"year":2020,"month":12,"date":7,"utc":true},
       {"year":2021,"month":1,"date":4,"utc":true},{"year":2021,"month":2,"date":1,"utc":true},{"year":2021,"month":3,"date":1,"utc":true},{"year":2021,"month":4,"date":5,"utc":true},{"year":2021,"month":5,"date":3,"utc":true},{"year":2021,"month":6,"date":7,"utc":true},{"year":2021,"month":7,"date":5,"utc":true},{"year":2021,"month":8,"date":2,"utc":true},{"year":2021,"month":9,"date":6,"utc":true},{"year":2021,"month":10,"date":4,"utc":true},{"year":2021,"month":11,"date":1,"utc":true},{"year":2021,"month":12,"date":6,"utc":true},
       {"year":2022,"month":1,"date":3,"utc":true},{"year":2022,"month":2,"date":7,"utc":true},{"year":2022,"month":3,"date":7,"utc":true},{"year":2022,"month":4,"date":4,"utc":true},{"year":2022,"month":5,"date":2,"utc":true},{"year":2022,"month":6,"date":6,"utc":true}],
      "labelExpr":"utcmonth(datum.value) == 0 ? utcFormat(datum.value, '%Y') : ['gen','feb','mar','apr','mag','giu','lug','ago','set','ott','nov','dic'][utcmonth(datum.value)]",
      "labelFontWeight":{"condition":{"test":"utcmonth(datum.value) == 0","value":"bold"},"value":"normal"},
      "grid":true,"gridColor":"#d5dae0","gridOpacity":{"condition":{"test":"utcmonth(datum.value) == 0","value":1},"value":0},
      "domain":false,"tickColor":"#888888","tickSize":4,"labelOverlap":false,"labelFlush":false,"labelPadding":4,"title":null}},
    "y":{"datum":0,"type":"quantitative","scale":{"domain":[-0.99,1.17],"nice":false,"zero":false}}}},
  {"data":{"name":"w"},"transform":[{"filter":"datum.sw != 0"}],"mark":{"type":"bar","width":4,"strokeWidth":1,"clip":true},
   "encoding":{
    "x":{"field":"d","type":"temporal","title":null,"scale":{"type":"utc","nice":false,"padding":0,"domain":[{"year":2019,"month":10,"date":8,"hours":7,"utc":true},{"year":2022,"month":6,"date":13,"hours":17,"utc":true}]}},
    "y":{"field":"sw","type":"quantitative","title":null,"scale":{"domain":[-0.99,1.17],"nice":false,"zero":false},
     "axis":{"orient":"right","values":[-0.5,0,0.5,1],"labels":false,"domain":false,"grid":true,"gridColor":"#c8cdd3",
      "gridOpacity":{"condition":{"test":"datum.value == 0","value":1},"value":0},"title":null}},
    "fill":{"condition":{"test":"datum.sw > 0","value":"#1e9e1e"},"value":"#ff2020"},
    "stroke":{"condition":{"test":"datum.sw > 0","value":"#0d5c0d"},"value":"#a01010"}}},
  {"data":{"name":"w"},
   "transform":[{"window":[{"op":"lead","field":"es","as":"es2"},{"op":"lead","field":"d","as":"d2"}],"sort":[{"field":"d","order":"ascending"}]},{"filter":"datum.d2 != null"}],
   "mark":{"type":"rule","strokeWidth":3,"strokeCap":"round","clip":true},
   "encoding":{
    "x":{"field":"d","type":"temporal","title":null,"scale":{"type":"utc","nice":false,"padding":0,"domain":[{"year":2019,"month":10,"date":8,"hours":7,"utc":true},{"year":2022,"month":6,"date":13,"hours":17,"utc":true}]}},
    "x2":{"field":"d2"},
    "y":{"field":"es","type":"quantitative","title":null,"scale":{"domain":[-0.99,1.17],"nice":false,"zero":false}},
    "y2":{"field":"es2"},
    "color":{"condition":{"test":"datum.es2 >= datum.es","value":"#149614"},"value":"#ff1a1a"}}},
  {"data":{"values":[{"es":-0.5},{"es":0.5},{"es":1}]},"mark":{"type":"text","align":"left","baseline":"middle","dx":7,"fontSize":11,"color":"#000000"},
   "encoding":{"x":{"value":"width"},"y":{"field":"es","type":"quantitative","title":null,"scale":{"domain":[-0.99,1.17],"nice":false,"zero":false}},"text":{"field":"es","type":"quantitative","format":".1~f"}}},
  {"data":{"values":[{"es":0.091}]},"mark":{"type":"rect","fill":"#f7f7f7","stroke":"#8d98a3","strokeWidth":1,"xOffset":4,"x2Offset":42,"yOffset":-12,"y2Offset":2},
   "encoding":{"x":{"value":"width"},"x2":{"value":"width"},"y":{"field":"es","type":"quantitative","title":null,"scale":{"domain":[-0.99,1.17],"nice":false,"zero":false}},"y2":{"field":"es"}}},
  {"data":{"values":[{"es":0.091}]},"mark":{"type":"text","align":"left","baseline":"middle","dx":6,"dy":-5,"fontSize":11,"color":"#ff0000"},
   "encoding":{"x":{"value":"width"},"y":{"field":"es","type":"quantitative","title":null,"scale":{"domain":[-0.99,1.17],"nice":false,"zero":false}},"text":{"field":"es","type":"quantitative","format":".4f"}}},
  {"data":{"values":[{"es":0}]},"mark":{"type":"rect","fill":"#f7f7f7","stroke":"#8d98a3","strokeWidth":1,"xOffset":4,"x2Offset":16,"yOffset":3,"y2Offset":17},
   "encoding":{"x":{"value":"width"},"x2":{"value":"width"},"y":{"field":"es","type":"quantitative","title":null,"scale":{"domain":[-0.99,1.17],"nice":false,"zero":false}},"y2":{"field":"es"}}},
  {"data":{"values":[{"es":0}]},"mark":{"type":"text","align":"center","baseline":"middle","dx":10,"dy":10,"fontSize":11,"color":"#0a9a0a"},
   "encoding":{"x":{"value":"width"},"y":{"field":"es","type":"quantitative","title":null,"scale":{"domain":[-0.99,1.17],"nice":false,"zero":false}},"text":{"field":"es","type":"quantitative","format":".0f"}}},
  {"data":{"values":[{"s":"SwingIndicator"},{"s":"EMA (5)"}]},"mark":{"type":"square","clip":true},
   "encoding":{"x":{"datum":{"year":2019,"month":10,"date":8,"hours":7,"utc":true},"type":"temporal","scale":{"type":"utc","nice":false,"padding":0,"domain":[{"year":2019,"month":10,"date":8,"hours":7,"utc":true},{"year":2022,"month":6,"date":13,"hours":17,"utc":true}]}},
    "y":{"datum":-10,"type":"quantitative","scale":{"domain":[-0.99,1.17],"nice":false,"zero":false}},
    "color":{"field":"s","type":"nominal","title":null,"scale":{"domain":["SwingIndicator","EMA (5)"],"range":["#111111","#1a9a1a"]},"legend":{"title":null}}}}
 ]
}
],
"resolve":{"scale":{"x":"independent","y":"independent","color":"independent"},"axis":{"x":"independent","y":"independent"},"legend":{"color":"independent"}}
}
